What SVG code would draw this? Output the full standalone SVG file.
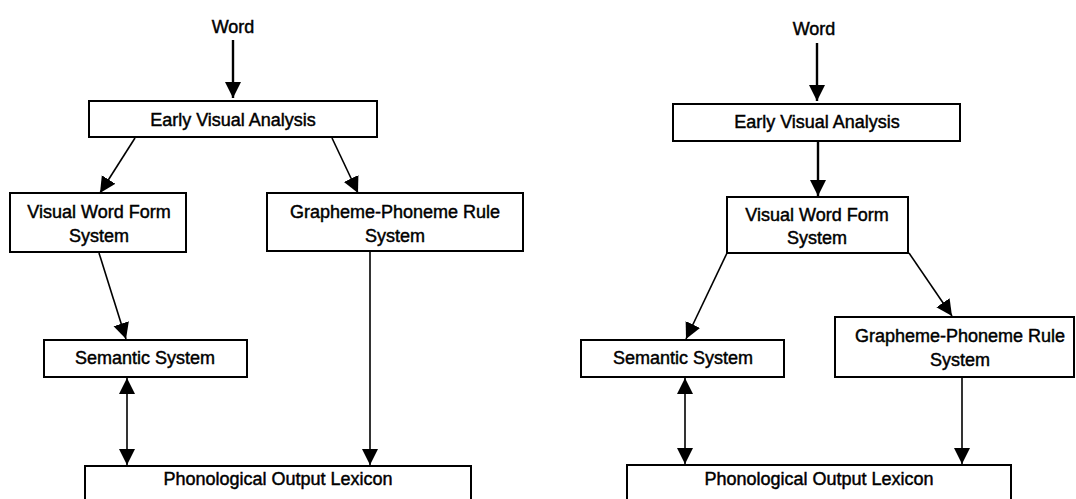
<svg xmlns="http://www.w3.org/2000/svg" width="1076" height="499" viewBox="0 0 1076 499">
<style>
.box{fill:#fff;stroke:#000;stroke-width:2}
.t{font-family:"Liberation Sans",Arial,sans-serif;font-size:18px;fill:#000;stroke:#000;stroke-width:0.45;text-anchor:middle}
.c{stroke:#000;stroke-width:1.6;fill:none}
.w{stroke-width:2.4}
</style>
<defs>
<marker id="ah" markerUnits="userSpaceOnUse" markerWidth="18" markerHeight="18" refX="16" refY="8" orient="auto-start-reverse">
<path d="M0,0 L16,8 L0,16 z" fill="#000"/>
</marker>
</defs>
<rect width="1076" height="499" fill="#fff"/>
<g id="connectors">
<line class="c w" x1="233" y1="40" x2="233" y2="98" marker-end="url(#ah)"/>
<line class="c" x1="135" y1="138" x2="100" y2="193" marker-end="url(#ah)"/>
<line class="c" x1="332" y1="138" x2="358" y2="193" marker-end="url(#ah)"/>
<line class="c" x1="99" y1="253" x2="126" y2="339" marker-end="url(#ah)"/>
<line class="c" x1="127" y1="378" x2="127" y2="465" marker-start="url(#ah)" marker-end="url(#ah)"/>
<line class="c" x1="370" y1="252" x2="370" y2="465" marker-end="url(#ah)"/>
<line class="c w" x1="817" y1="43" x2="817" y2="101" marker-end="url(#ah)"/>
<line class="c w" x1="818" y1="142" x2="818" y2="196" marker-end="url(#ah)"/>
<line class="c" x1="727" y1="253" x2="686" y2="339" marker-end="url(#ah)"/>
<line class="c" x1="909" y1="253" x2="952" y2="316" marker-end="url(#ah)"/>
<line class="c" x1="685" y1="378" x2="685" y2="464" marker-start="url(#ah)" marker-end="url(#ah)"/>
<line class="c" x1="962" y1="378" x2="962" y2="464" marker-end="url(#ah)"/>
</g>
<g id="word-left"><text class="t" x="233" y="33">Word</text></g>
<g id="eva-left"><rect class="box" x="89" y="101" width="288" height="36"/><text class="t" x="233" y="126">Early Visual Analysis</text></g>
<g id="vwf-left"><rect class="box" x="10" y="193" width="176" height="59"/><text class="t" x="99" y="218">Visual Word Form</text><text class="t" x="99" y="242">System</text></g>
<g id="gp-left"><rect class="box" x="267" y="193" width="256" height="58"/><text class="t" x="395" y="218">Grapheme-Phoneme Rule</text><text class="t" x="395" y="242">System</text></g>
<g id="sem-left"><rect class="box" x="44" y="340" width="203" height="37"/><text class="t" x="145" y="364">Semantic System</text></g>
<g id="pol-left"><rect class="box" x="85" y="466" width="386" height="60"/><text class="t" x="278" y="485">Phonological Output Lexicon</text></g>
<g id="word-right"><text class="t" x="814" y="35">Word</text></g>
<g id="eva-right"><rect class="box" x="673" y="104" width="287" height="37"/><text class="t" x="817" y="128">Early Visual Analysis</text></g>
<g id="vwf-right"><rect class="box" x="727" y="197" width="181" height="56"/><text class="t" x="817" y="221">Visual Word Form</text><text class="t" x="817" y="244">System</text></g>
<g id="sem-right"><rect class="box" x="581" y="340" width="203" height="37"/><text class="t" x="683" y="364">Semantic System</text></g>
<g id="gp-right"><rect class="box" x="835" y="317" width="239" height="60"/><text class="t" x="960" y="342">Grapheme-Phoneme Rule</text><text class="t" x="960" y="366">System</text></g>
<g id="pol-right"><rect class="box" x="627" y="465" width="384" height="60"/><text class="t" x="819" y="485">Phonological Output Lexicon</text></g>
</svg>
